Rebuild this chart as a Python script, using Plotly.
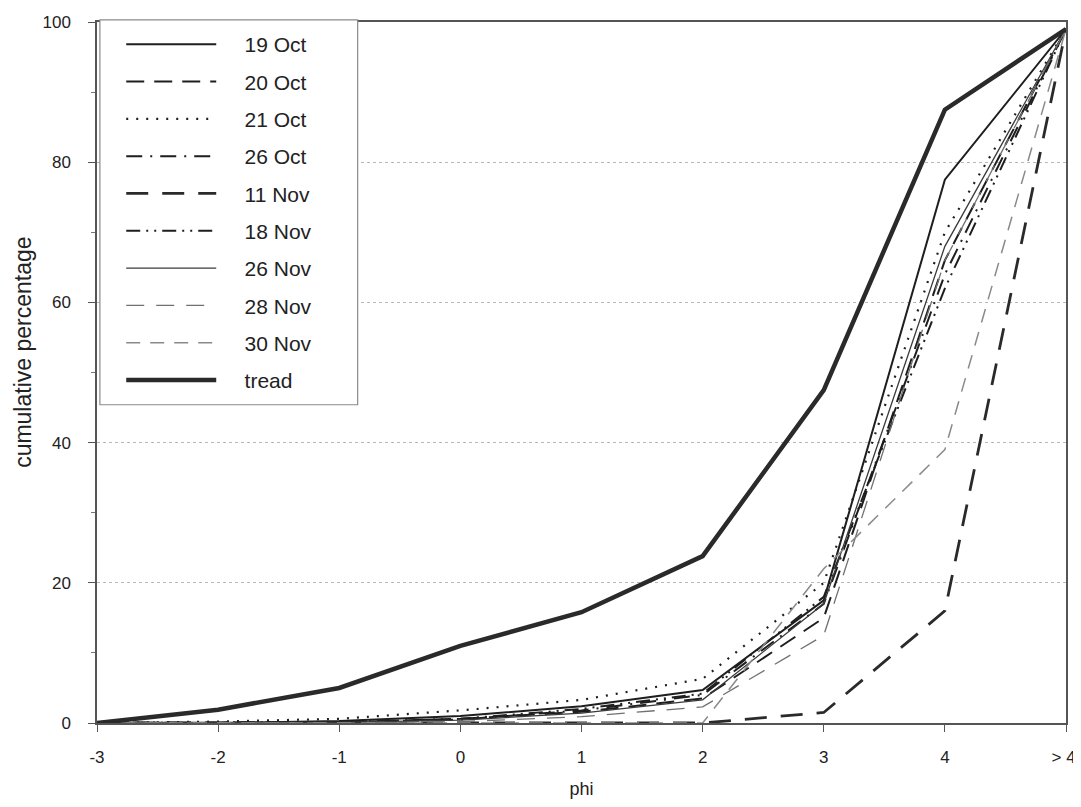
import plotly.graph_objects as go

x_pos = [0, 1, 2, 3, 4, 5, 6, 7, 8]
x_labels = ["-3", "-2", "-1", "0", "1", "2", "3", "4", "> 4\u00a0"]

series_names = ["19 Oct", "20 Oct", "21 Oct", "26 Oct", "11 Nov",
                "18 Nov", "26 Nov", "28 Nov", "30 Nov", "tread"]

oct19 = [0, 0, 0.3, 1.0, 2.4, 4.7, 17.5, 77.5, 99]
oct20 = [0, 0, 0.1, 0.6, 1.6, 3.5, 15.0, 66, 99]
oct21 = [0, 0.2, 0.6, 1.8, 3.3, 6.3, 20.0, 70, 99]
oct26 = [0, 0, 0.1, 0.5, 1.8, 4.0, 17.0, 64, 99]
nov11 = [0, 0, 0, 0, 0, 0, 1.5, 16, 99]
nov18 = [0, 0, 0.1, 0.6, 2.0, 4.2, 18.0, 62, 99]
nov26 = [0, 0, 0.1, 0.4, 1.4, 3.3, 17.0, 68, 99]
nov28 = [0, 0, 0, 0.2, 0.9, 2.3, 12.5, 66, 99]
nov30 = [0, 0, 0, 0, 0, 0, 22.0, 39, 99]
tread = [0, 1.9, 5.0, 11.0, 15.8, 23.8, 47.5, 87.5, 99]

values = [oct19, oct20, oct21, oct26, nov11, nov18, nov26, nov28, nov30, tread]

styles = [
    dict(color="#1e1e1e", width=2.0, dash="solid"),
    dict(color="#1e1e1e", width=2.0, dash="18px,10px"),
    dict(color="#1e1e1e", width=2.2, dash="2px,8px"),
    dict(color="#1e1e1e", width=2.0, dash="16px,8px,2px,8px"),
    dict(color="#2a2a2a", width=2.8, dash="22px,14px"),
    dict(color="#1e1e1e", width=2.0, dash="14px,6px,2px,6px,2px,6px"),
    dict(color="#3a3a3a", width=1.3, dash="solid"),
    dict(color="#707070", width=1.3, dash="18px,12px"),
    dict(color="#8a8a8a", width=1.5, dash="14px,10px"),
    dict(color="#2a2a2a", width=4.5, dash="solid"),
]

fig = go.Figure()
pad = "\u00a0" * 4
for i, (name, vals, st) in enumerate(zip(series_names, values, styles)):
    fig.add_trace(go.Scatter(
        x=x_pos, y=vals, mode="lines", name=pad + name,
        line=st, legendgroup=f"g{i}",
    ))

font_family = "Liberation Sans, Arial, sans-serif"

# legend frame
fig.add_shape(type="rect", xref="paper", yref="paper",
              x0=0.003, x1=0.269, y0=0.454, y1=1.003,
              line=dict(color="#8a8a8a", width=1.2), fillcolor="white",
              layer="above")

# y-axis title (placed slightly above centre, as in the reference)
fig.add_annotation(text="cumulative percentage", xref="paper", yref="paper",
                   x=0, y=0.528, xshift=-74, xanchor="center", yanchor="middle",
                   textangle=-90, showarrow=False,
                   font=dict(size=23, color="#222", family=font_family))

# The page body has an 8px margin, so the figure is sized to fit the window
# without scrollbars.
fig.update_layout(
    width=1073, height=791,
    margin=dict(l=89, r=15, t=14, b=76, autoexpand=False),
    paper_bgcolor="white", plot_bgcolor="white",
    font=dict(family=font_family, size=17, color="#222"),
    showlegend=True,
    legend=dict(
        x=0.025, y=0.997, xanchor="left", yanchor="top",
        bgcolor="rgba(0,0,0,0)", borderwidth=0,
        font=dict(size=21, color="#222"),
        traceorder="grouped", tracegroupgap=7,
        itemwidth=90,
    ),
    xaxis=dict(
        range=[0, 8], tickmode="array", tickvals=x_pos, ticktext=x_labels,
        showgrid=False, zeroline=False, automargin=False,
        showline=True, linecolor="#555", linewidth=1.5, mirror=True,
        ticks="outside", ticklen=7, tickcolor="#555",
        tickfont=dict(size=17), ticklabelstandoff=11, ticklabeloverflow="allow",
        title=dict(text="phi", font=dict(size=18), standoff=20),
    ),
    yaxis=dict(
        range=[0, 100], tickmode="array", tickvals=[0, 20, 40, 60, 80, 100],
        showgrid=True, gridcolor="#b8b8b8", griddash="dot", gridwidth=1.2,
        zeroline=False, automargin=False,
        showline=True, linecolor="#555", linewidth=1.5, mirror=True,
        ticks="outside", ticklen=7, tickcolor="#555",
        minor=dict(dtick=10, ticks="outside", ticklen=4, tickcolor="#777", showgrid=False),
        tickfont=dict(size=17), ticklabelstandoff=14, ticklabeloverflow="allow",
    ),
)

fig.write_html("out.html")
